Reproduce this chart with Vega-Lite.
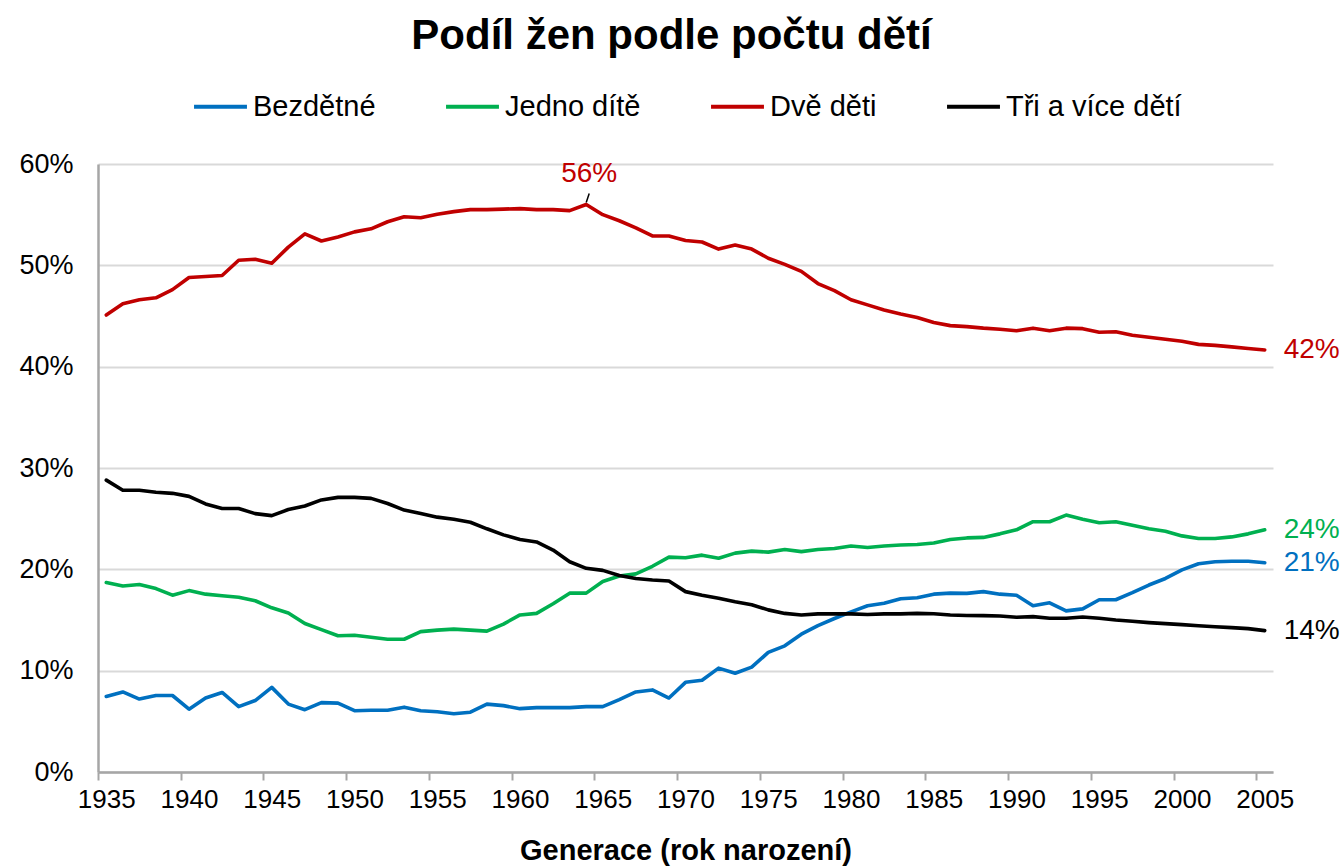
{
"$schema": "https://vega.github.io/schema/vega-lite/v6.json",
"width": 1175,
"height": 608,
"autosize": {"type": "none"},
"padding": {"left": 98, "top": 164, "right": 70, "bottom": 96},
"background": "white",
"config": {"font": "Liberation Sans", "view": {"stroke": null}},
"title": {"text": "Podíl žen podle počtu dětí", "fontSize": 42, "fontWeight": "bold", "font": "Liberation Sans", "color": "#000000", "anchor": "middle", "frame": "group", "offset": 20, "dx": -14},
"datasets": {
"d": [
{"rok":1935,"skupina":"Bezdětné","podil":0.0745},{"rok":1936,"skupina":"Bezdětné","podil":0.079},{"rok":1937,"skupina":"Bezdětné","podil":0.072},{"rok":1938,"skupina":"Bezdětné","podil":0.0755},{"rok":1939,"skupina":"Bezdětné","podil":0.0755},{"rok":1940,"skupina":"Bezdětné","podil":0.062},{"rok":1941,"skupina":"Bezdětné","podil":0.073},{"rok":1942,"skupina":"Bezdětné","podil":0.0785},{"rok":1943,"skupina":"Bezdětné","podil":0.0645},{"rok":1944,"skupina":"Bezdětné","podil":0.0705},{"rok":1945,"skupina":"Bezdětné","podil":0.0835},{"rok":1946,"skupina":"Bezdětné","podil":0.067},{"rok":1947,"skupina":"Bezdětné","podil":0.0615},{"rok":1948,"skupina":"Bezdětné","podil":0.0685},{"rok":1949,"skupina":"Bezdětné","podil":0.068},{"rok":1950,"skupina":"Bezdětné","podil":0.0605},{"rok":1951,"skupina":"Bezdětné","podil":0.061},{"rok":1952,"skupina":"Bezdětné","podil":0.061},{"rok":1953,"skupina":"Bezdětné","podil":0.064},{"rok":1954,"skupina":"Bezdětné","podil":0.0605},{"rok":1955,"skupina":"Bezdětné","podil":0.0595},{"rok":1956,"skupina":"Bezdětné","podil":0.0575},{"rok":1957,"skupina":"Bezdětné","podil":0.059},{"rok":1958,"skupina":"Bezdětné","podil":0.067},{"rok":1959,"skupina":"Bezdětné","podil":0.0655},{"rok":1960,"skupina":"Bezdětné","podil":0.0625},{"rok":1961,"skupina":"Bezdětné","podil":0.0635},{"rok":1962,"skupina":"Bezdětné","podil":0.0635},{"rok":1963,"skupina":"Bezdětné","podil":0.0635},{"rok":1964,"skupina":"Bezdětné","podil":0.0645},{"rok":1965,"skupina":"Bezdětné","podil":0.0645},{"rok":1966,"skupina":"Bezdětné","podil":0.0715},{"rok":1967,"skupina":"Bezdětné","podil":0.079},{"rok":1968,"skupina":"Bezdětné","podil":0.081},{"rok":1969,"skupina":"Bezdětné","podil":0.073},{"rok":1970,"skupina":"Bezdětné","podil":0.0885},{"rok":1971,"skupina":"Bezdětné","podil":0.0905},{"rok":1972,"skupina":"Bezdětné","podil":0.1025},{"rok":1973,"skupina":"Bezdětné","podil":0.0975},{"rok":1974,"skupina":"Bezdětné","podil":0.1035},{"rok":1975,"skupina":"Bezdětné","podil":0.118},{"rok":1976,"skupina":"Bezdětné","podil":0.1245},{"rok":1977,"skupina":"Bezdětné","podil":0.136},{"rok":1978,"skupina":"Bezdětné","podil":0.1445},{"rok":1979,"skupina":"Bezdětné","podil":0.1515},{"rok":1980,"skupina":"Bezdětné","podil":0.158},{"rok":1981,"skupina":"Bezdětné","podil":0.164},{"rok":1982,"skupina":"Bezdětné","podil":0.1665},{"rok":1983,"skupina":"Bezdětné","podil":0.171},{"rok":1984,"skupina":"Bezdětné","podil":0.172},{"rok":1985,"skupina":"Bezdětné","podil":0.1755},{"rok":1986,"skupina":"Bezdětné","podil":0.1765},{"rok":1987,"skupina":"Bezdětné","podil":0.1763},{"rok":1988,"skupina":"Bezdětné","podil":0.178},{"rok":1989,"skupina":"Bezdětné","podil":0.1755},{"rok":1990,"skupina":"Bezdětné","podil":0.1745},{"rok":1991,"skupina":"Bezdětné","podil":0.164},{"rok":1992,"skupina":"Bezdětné","podil":0.167},{"rok":1993,"skupina":"Bezdětné","podil":0.159},{"rok":1994,"skupina":"Bezdětné","podil":0.161},{"rok":1995,"skupina":"Bezdětné","podil":0.17},{"rok":1996,"skupina":"Bezdětné","podil":0.17},{"rok":1997,"skupina":"Bezdětné","podil":0.177},{"rok":1998,"skupina":"Bezdětné","podil":0.1845},{"rok":1999,"skupina":"Bezdětné","podil":0.191},{"rok":2000,"skupina":"Bezdětné","podil":0.1995},{"rok":2001,"skupina":"Bezdětné","podil":0.2055},{"rok":2002,"skupina":"Bezdětné","podil":0.2075},{"rok":2003,"skupina":"Bezdětné","podil":0.208},{"rok":2004,"skupina":"Bezdětné","podil":0.208},{"rok":2005,"skupina":"Bezdětné","podil":0.2065},
{"rok":1935,"skupina":"Jedno dítě","podil":0.187},{"rok":1936,"skupina":"Jedno dítě","podil":0.1835},{"rok":1937,"skupina":"Jedno dítě","podil":0.185},{"rok":1938,"skupina":"Jedno dítě","podil":0.181},{"rok":1939,"skupina":"Jedno dítě","podil":0.1745},{"rok":1940,"skupina":"Jedno dítě","podil":0.179},{"rok":1941,"skupina":"Jedno dítě","podil":0.1755},{"rok":1942,"skupina":"Jedno dítě","podil":0.174},{"rok":1943,"skupina":"Jedno dítě","podil":0.1725},{"rok":1944,"skupina":"Jedno dítě","podil":0.169},{"rok":1945,"skupina":"Jedno dítě","podil":0.162},{"rok":1946,"skupina":"Jedno dítě","podil":0.157},{"rok":1947,"skupina":"Jedno dítě","podil":0.1465},{"rok":1948,"skupina":"Jedno dítě","podil":0.1405},{"rok":1949,"skupina":"Jedno dítě","podil":0.1345},{"rok":1950,"skupina":"Jedno dítě","podil":0.135},{"rok":1951,"skupina":"Jedno dítě","podil":0.133},{"rok":1952,"skupina":"Jedno dítě","podil":0.131},{"rok":1953,"skupina":"Jedno dítě","podil":0.131},{"rok":1954,"skupina":"Jedno dítě","podil":0.1385},{"rok":1955,"skupina":"Jedno dítě","podil":0.14},{"rok":1956,"skupina":"Jedno dítě","podil":0.141},{"rok":1957,"skupina":"Jedno dítě","podil":0.14},{"rok":1958,"skupina":"Jedno dítě","podil":0.139},{"rok":1959,"skupina":"Jedno dítě","podil":0.146},{"rok":1960,"skupina":"Jedno dítě","podil":0.155},{"rok":1961,"skupina":"Jedno dítě","podil":0.1565},{"rok":1962,"skupina":"Jedno dítě","podil":0.166},{"rok":1963,"skupina":"Jedno dítě","podil":0.1765},{"rok":1964,"skupina":"Jedno dítě","podil":0.1765},{"rok":1965,"skupina":"Jedno dítě","podil":0.188},{"rok":1966,"skupina":"Jedno dítě","podil":0.1935},{"rok":1967,"skupina":"Jedno dítě","podil":0.1955},{"rok":1968,"skupina":"Jedno dítě","podil":0.203},{"rok":1969,"skupina":"Jedno dítě","podil":0.212},{"rok":1970,"skupina":"Jedno dítě","podil":0.2115},{"rok":1971,"skupina":"Jedno dítě","podil":0.214},{"rok":1972,"skupina":"Jedno dítě","podil":0.211},{"rok":1973,"skupina":"Jedno dítě","podil":0.216},{"rok":1974,"skupina":"Jedno dítě","podil":0.218},{"rok":1975,"skupina":"Jedno dítě","podil":0.217},{"rok":1976,"skupina":"Jedno dítě","podil":0.2195},{"rok":1977,"skupina":"Jedno dítě","podil":0.2175},{"rok":1978,"skupina":"Jedno dítě","podil":0.2195},{"rok":1979,"skupina":"Jedno dítě","podil":0.2205},{"rok":1980,"skupina":"Jedno dítě","podil":0.223},{"rok":1981,"skupina":"Jedno dítě","podil":0.2215},{"rok":1982,"skupina":"Jedno dítě","podil":0.223},{"rok":1983,"skupina":"Jedno dítě","podil":0.224},{"rok":1984,"skupina":"Jedno dítě","podil":0.2245},{"rok":1985,"skupina":"Jedno dítě","podil":0.226},{"rok":1986,"skupina":"Jedno dítě","podil":0.2295},{"rok":1987,"skupina":"Jedno dítě","podil":0.231},{"rok":1988,"skupina":"Jedno dítě","podil":0.2315},{"rok":1989,"skupina":"Jedno dítě","podil":0.235},{"rok":1990,"skupina":"Jedno dítě","podil":0.239},{"rok":1991,"skupina":"Jedno dítě","podil":0.247},{"rok":1992,"skupina":"Jedno dítě","podil":0.247},{"rok":1993,"skupina":"Jedno dítě","podil":0.2535},{"rok":1994,"skupina":"Jedno dítě","podil":0.2495},{"rok":1995,"skupina":"Jedno dítě","podil":0.246},{"rok":1996,"skupina":"Jedno dítě","podil":0.247},{"rok":1997,"skupina":"Jedno dítě","podil":0.2435},{"rok":1998,"skupina":"Jedno dítě","podil":0.24},{"rok":1999,"skupina":"Jedno dítě","podil":0.2375},{"rok":2000,"skupina":"Jedno dítě","podil":0.233},{"rok":2001,"skupina":"Jedno dítě","podil":0.2305},{"rok":2002,"skupina":"Jedno dítě","podil":0.2305},{"rok":2003,"skupina":"Jedno dítě","podil":0.232},{"rok":2004,"skupina":"Jedno dítě","podil":0.235},{"rok":2005,"skupina":"Jedno dítě","podil":0.239},
{"rok":1935,"skupina":"Dvě děti","podil":0.451},{"rok":1936,"skupina":"Dvě děti","podil":0.462},{"rok":1937,"skupina":"Dvě děti","podil":0.466},{"rok":1938,"skupina":"Dvě děti","podil":0.468},{"rok":1939,"skupina":"Dvě děti","podil":0.476},{"rok":1940,"skupina":"Dvě děti","podil":0.488},{"rok":1941,"skupina":"Dvě děti","podil":0.489},{"rok":1942,"skupina":"Dvě děti","podil":0.49},{"rok":1943,"skupina":"Dvě děti","podil":0.505},{"rok":1944,"skupina":"Dvě děti","podil":0.506},{"rok":1945,"skupina":"Dvě děti","podil":0.502},{"rok":1946,"skupina":"Dvě děti","podil":0.518},{"rok":1947,"skupina":"Dvě děti","podil":0.531},{"rok":1948,"skupina":"Dvě děti","podil":0.524},{"rok":1949,"skupina":"Dvě děti","podil":0.528},{"rok":1950,"skupina":"Dvě děti","podil":0.533},{"rok":1951,"skupina":"Dvě děti","podil":0.536},{"rok":1952,"skupina":"Dvě děti","podil":0.543},{"rok":1953,"skupina":"Dvě děti","podil":0.548},{"rok":1954,"skupina":"Dvě děti","podil":0.547},{"rok":1955,"skupina":"Dvě děti","podil":0.5505},{"rok":1956,"skupina":"Dvě děti","podil":0.553},{"rok":1957,"skupina":"Dvě děti","podil":0.555},{"rok":1958,"skupina":"Dvě děti","podil":0.555},{"rok":1959,"skupina":"Dvě děti","podil":0.5555},{"rok":1960,"skupina":"Dvě děti","podil":0.556},{"rok":1961,"skupina":"Dvě děti","podil":0.555},{"rok":1962,"skupina":"Dvě děti","podil":0.555},{"rok":1963,"skupina":"Dvě děti","podil":0.554},{"rok":1964,"skupina":"Dvě děti","podil":0.56},{"rok":1965,"skupina":"Dvě děti","podil":0.55},{"rok":1966,"skupina":"Dvě děti","podil":0.544},{"rok":1967,"skupina":"Dvě děti","podil":0.537},{"rok":1968,"skupina":"Dvě děti","podil":0.529},{"rok":1969,"skupina":"Dvě děti","podil":0.529},{"rok":1970,"skupina":"Dvě děti","podil":0.5245},{"rok":1971,"skupina":"Dvě děti","podil":0.523},{"rok":1972,"skupina":"Dvě děti","podil":0.516},{"rok":1973,"skupina":"Dvě děti","podil":0.52},{"rok":1974,"skupina":"Dvě děti","podil":0.516},{"rok":1975,"skupina":"Dvě děti","podil":0.507},{"rok":1976,"skupina":"Dvě děti","podil":0.501},{"rok":1977,"skupina":"Dvě děti","podil":0.494},{"rok":1978,"skupina":"Dvě děti","podil":0.482},{"rok":1979,"skupina":"Dvě děti","podil":0.475},{"rok":1980,"skupina":"Dvě děti","podil":0.466},{"rok":1981,"skupina":"Dvě děti","podil":0.461},{"rok":1982,"skupina":"Dvě děti","podil":0.456},{"rok":1983,"skupina":"Dvě děti","podil":0.452},{"rok":1984,"skupina":"Dvě děti","podil":0.4485},{"rok":1985,"skupina":"Dvě děti","podil":0.4435},{"rok":1986,"skupina":"Dvě děti","podil":0.4405},{"rok":1987,"skupina":"Dvě děti","podil":0.4395},{"rok":1988,"skupina":"Dvě děti","podil":0.438},{"rok":1989,"skupina":"Dvě děti","podil":0.437},{"rok":1990,"skupina":"Dvě děti","podil":0.4355},{"rok":1991,"skupina":"Dvě děti","podil":0.438},{"rok":1992,"skupina":"Dvě děti","podil":0.4355},{"rok":1993,"skupina":"Dvě děti","podil":0.438},{"rok":1994,"skupina":"Dvě děti","podil":0.4375},{"rok":1995,"skupina":"Dvě děti","podil":0.434},{"rok":1996,"skupina":"Dvě děti","podil":0.4345},{"rok":1997,"skupina":"Dvě děti","podil":0.431},{"rok":1998,"skupina":"Dvě děti","podil":0.429},{"rok":1999,"skupina":"Dvě děti","podil":0.427},{"rok":2000,"skupina":"Dvě děti","podil":0.425},{"rok":2001,"skupina":"Dvě děti","podil":0.422},{"rok":2002,"skupina":"Dvě děti","podil":0.421},{"rok":2003,"skupina":"Dvě děti","podil":0.4195},{"rok":2004,"skupina":"Dvě děti","podil":0.418},{"rok":2005,"skupina":"Dvě děti","podil":0.4165},
{"rok":1935,"skupina":"Tři a více dětí","podil":0.288},{"rok":1936,"skupina":"Tři a více dětí","podil":0.278},{"rok":1937,"skupina":"Tři a více dětí","podil":0.278},{"rok":1938,"skupina":"Tři a více dětí","podil":0.276},{"rok":1939,"skupina":"Tři a více dětí","podil":0.275},{"rok":1940,"skupina":"Tři a více dětí","podil":0.272},{"rok":1941,"skupina":"Tři a více dětí","podil":0.2645},{"rok":1942,"skupina":"Tři a více dětí","podil":0.26},{"rok":1943,"skupina":"Tři a více dětí","podil":0.26},{"rok":1944,"skupina":"Tři a více dětí","podil":0.255},{"rok":1945,"skupina":"Tři a více dětí","podil":0.253},{"rok":1946,"skupina":"Tři a více dětí","podil":0.259},{"rok":1947,"skupina":"Tři a více dětí","podil":0.2625},{"rok":1948,"skupina":"Tři a více dětí","podil":0.2685},{"rok":1949,"skupina":"Tři a více dětí","podil":0.271},{"rok":1950,"skupina":"Tři a více dětí","podil":0.271},{"rok":1951,"skupina":"Tři a více dětí","podil":0.27},{"rok":1952,"skupina":"Tři a více dětí","podil":0.265},{"rok":1953,"skupina":"Tři a více dětí","podil":0.2585},{"rok":1954,"skupina":"Tři a více dětí","podil":0.255},{"rok":1955,"skupina":"Tři a více dětí","podil":0.2515},{"rok":1956,"skupina":"Tři a více dětí","podil":0.2495},{"rok":1957,"skupina":"Tři a více dětí","podil":0.2465},{"rok":1958,"skupina":"Tři a více dětí","podil":0.24},{"rok":1959,"skupina":"Tři a více dětí","podil":0.234},{"rok":1960,"skupina":"Tři a více dětí","podil":0.2295},{"rok":1961,"skupina":"Tři a více dětí","podil":0.227},{"rok":1962,"skupina":"Tři a více dětí","podil":0.219},{"rok":1963,"skupina":"Tři a více dětí","podil":0.2075},{"rok":1964,"skupina":"Tři a více dětí","podil":0.201},{"rok":1965,"skupina":"Tři a více dětí","podil":0.199},{"rok":1966,"skupina":"Tři a více dětí","podil":0.194},{"rok":1967,"skupina":"Tři a více dětí","podil":0.191},{"rok":1968,"skupina":"Tři a více dětí","podil":0.1895},{"rok":1969,"skupina":"Tři a více dětí","podil":0.1885},{"rok":1970,"skupina":"Tři a více dětí","podil":0.178},{"rok":1971,"skupina":"Tři a více dětí","podil":0.1745},{"rok":1972,"skupina":"Tři a více dětí","podil":0.1715},{"rok":1973,"skupina":"Tři a více dětí","podil":0.168},{"rok":1974,"skupina":"Tři a více dětí","podil":0.165},{"rok":1975,"skupina":"Tři a více dětí","podil":0.16},{"rok":1976,"skupina":"Tři a více dětí","podil":0.1565},{"rok":1977,"skupina":"Tři a více dětí","podil":0.155},{"rok":1978,"skupina":"Tři a více dětí","podil":0.156},{"rok":1979,"skupina":"Tři a více dětí","podil":0.156},{"rok":1980,"skupina":"Tři a více dětí","podil":0.156},{"rok":1981,"skupina":"Tři a více dětí","podil":0.1555},{"rok":1982,"skupina":"Tři a více dětí","podil":0.156},{"rok":1983,"skupina":"Tři a více dětí","podil":0.156},{"rok":1984,"skupina":"Tři a více dětí","podil":0.1565},{"rok":1985,"skupina":"Tři a více dětí","podil":0.1562},{"rok":1986,"skupina":"Tři a více dětí","podil":0.155},{"rok":1987,"skupina":"Tři a více dětí","podil":0.1545},{"rok":1988,"skupina":"Tři a více dětí","podil":0.1543},{"rok":1989,"skupina":"Tři a více dětí","podil":0.154},{"rok":1990,"skupina":"Tři a více dětí","podil":0.1527},{"rok":1991,"skupina":"Tři a více dětí","podil":0.1533},{"rok":1992,"skupina":"Tři a více dětí","podil":0.1517},{"rok":1993,"skupina":"Tři a více dětí","podil":0.1517},{"rok":1994,"skupina":"Tři a více dětí","podil":0.153},{"rok":1995,"skupina":"Tři a více dětí","podil":0.1517},{"rok":1996,"skupina":"Tři a více dětí","podil":0.15},{"rok":1997,"skupina":"Tři a více dětí","podil":0.1487},{"rok":1998,"skupina":"Tři a více dětí","podil":0.1474},{"rok":1999,"skupina":"Tři a více dětí","podil":0.1464},{"rok":2000,"skupina":"Tři a více dětí","podil":0.1454},{"rok":2001,"skupina":"Tři a více dětí","podil":0.1444},{"rok":2002,"skupina":"Tři a více dětí","podil":0.1434},{"rok":2003,"skupina":"Tři a více dětí","podil":0.1425},{"rok":2004,"skupina":"Tři a více dětí","podil":0.1415},{"rok":2005,"skupina":"Tři a více dětí","podil":0.1395}
]
},
"data": {"name": "d"},
"encoding": {
"x": {"field": "rok", "type": "quantitative",
"scale": {"domain": [1934.5, 2005.5], "nice": false, "zero": false},
"axis": {"values": [1935,1940,1945,1950,1955,1960,1965,1970,1975,1980,1985,1990,1995,2000,2005], "format": "d", "title": "Generace (rok narození)", "grid": false, "tickOffset": -8.275, "labelOffset": 8.275, "tickSize": 8, "tickColor": "#A6A6A6", "tickWidth": 2, "domainColor": "#A6A6A6", "domainWidth": 2.5, "labelFontSize": 26, "labelColor": "#000000", "labelPadding": 6, "labelFlush": false, "labelFont": "Liberation Sans", "titleFont": "Liberation Sans", "titleFontSize": 29, "titleFontWeight": "bold", "titleColor": "#000000", "titlePadding": 24}},
"y": {"field": "podil", "type": "quantitative",
"scale": {"domain": [0, 0.6], "nice": false},
"axis": {"values": [0,0.1,0.2,0.3,0.4,0.5,0.6], "format": ".0%", "title": null, "ticks": false, "labelPadding": 25, "labelFontSize": 27, "labelColor": "#000000", "labelFont": "Liberation Sans", "gridColor": "#D9D9D9", "gridWidth": 2, "domainColor": "#A6A6A6", "domainWidth": 2.5}}
},
"layer": [
{"mark": {"type": "line", "strokeWidth": 3.6, "strokeJoin": "round", "strokeCap": "round"},
"encoding": {"color": {"field": "skupina", "type": "nominal",
"scale": {"domain": ["Bezdětné","Jedno dítě","Dvě děti","Tři a více dětí"], "range": ["#0070C0","#00B050","#C00000","#000000"]},
"legend": {"orient": "none", "legendX": 94, "legendY": -86, "direction": "horizontal", "title": null, "symbolType": "stroke", "symbolSize": 2800, "symbolStrokeWidth": 4, "labelFontSize": 29, "labelFont": "Liberation Sans", "labelColor": "#000000", "labelOffset": 4, "columnPadding": 62, "labelLimit": 400}}}},
{"transform": [{"filter": "datum.rok == 2005"}],
"mark": {"type": "text", "align": "left", "baseline": "middle", "dx": 19, "fontSize": 28, "font": "Liberation Sans"},
"encoding": {"text": {"field": "podil", "format": ".0%"},
"color": {"field": "skupina", "type": "nominal", "legend": null}}},
{"transform": [{"filter": "datum.rok == 1964 && datum.skupina == 'Dvě děti'"}],
"mark": {"type": "text", "align": "center", "baseline": "alphabetic", "dx": 3, "dy": -23, "fontSize": 28, "font": "Liberation Sans", "color": "#C00000"},
"encoding": {"text": {"field": "podil", "format": ".0%"}}},
{"transform": [{"filter": "datum.rok == 1964 && datum.skupina == 'Dvě děti'"}],
"mark": {"type": "rule", "color": "#000000", "strokeWidth": 1.5, "yOffset": -2, "y2Offset": -11, "x2Offset": 3},
"encoding": {"x2": {"field": "rok"}, "y2": {"field": "podil"}}}
]
}
